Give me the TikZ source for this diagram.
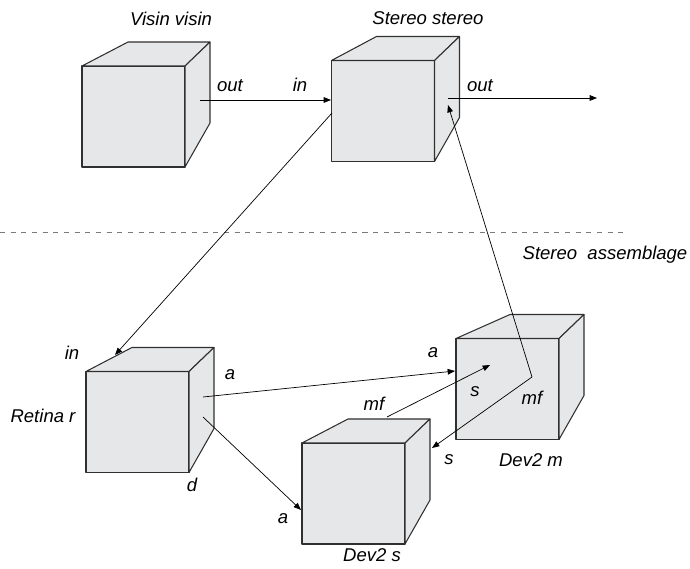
\documentclass[tikz,border=0pt]{standalone}
\usepackage{fontspec}
\setmainfont{Liberation Sans}
\usepackage{tikz}
\usetikzlibrary{arrows.meta,calc}
\definecolor{boxfill}{HTML}{E6E7E8}
\definecolor{boxedge}{HTML}{303030}
\definecolor{divider}{HTML}{7A7A7A}
\tikzset{
    every picture/.style={line join=round},
    boxfront/.style={draw=boxedge,fill=boxfill,line width=0.9pt,
      minimum width=3.09cm,minimum height=3.03cm,inner sep=0pt,outer sep=0pt},
    boxside/.style={draw=boxedge,fill=boxfill,line width=0.9pt},
    portlabel/.style={font=\fontsize{15.8}{18}\selectfont\itshape,
      inner sep=0pt,anchor=base},
    wire/.style={-{Triangle[length=2.2mm,width=1.7mm]},draw=black,
      line width=0.6pt}
}

\begin{document}
\begin{tikzpicture}[x=0.03cm,y=-0.03cm]
  \useasboundingbox (0,0) rectangle (690,569);
  % front faces
  \node[boxfront] (visin) at (133.5,116.5) {};
  \node[boxfront] (stereo) at (383,111) {};
  \node[boxfront] (retina) at (137.5,422) {};
  \node[boxfront] (dev2m) at (507.5,389) {};
  \node[boxfront] (dev2s) at (353.5,493.5) {};
  % top and right faces (back face a bit smaller)
  \foreach \b/\d in {visin/46,stereo/45,retina/46,dev2m/54,dev2s/46} {
    \draw[boxside] (\b.north west) -- ++(\d,-24) -- ($(\b.north east)+(25,-24)$)
      -- (\b.north east) -- cycle;
    \draw[boxside] (\b.north east) -- ++(25,-24) -- ($(\b.south east)+(25,-44)$)
      -- (\b.south east) -- cycle;
  }
  % assemblage border
  \draw[divider,line width=0.8pt,dash pattern=on 4.3pt off 4.8pt] (0,232) -- (623,232);
  % component names
  \node[portlabel] (visinname) at (171,26) {Visin visin};
  \node[portlabel] (stereoname) at (428,25) {Stereo stereo};
  \node[portlabel] (assemblage) at (605,260) {Stereo\ \ assemblage};
  \node[portlabel] (retinaname) at (43,423) {Retina r};
  \node[portlabel] (dev2mname) at (531,467) {Dev2 m};
  \node[portlabel] (dev2sname) at (372,561) {Dev2 s};
  % port names
  \node[portlabel] (lvisinout) at (230,92) {out};
  \node[portlabel] (lstereoin) at (300,92) {in};
  \node[portlabel] (lstereoout) at (480,92) {out};
  \node[portlabel] (lretinain) at (72,360) {in};
  \node[portlabel] (lretinaa) at (230,380) {a};
  \node[portlabel] (lretinad) at (192,492) {d};
  \node[portlabel] (ldev2sa) at (283,523) {a};
  \node[portlabel] (ldev2sf) at (374,411) {mf};
  \node[portlabel] (ldev2ss) at (449,465) {s};
  \node[portlabel] (ldev2ma) at (433,358) {a};
  \node[portlabel] (ldev2ms) at (475,397) {s};
  \node[portlabel] (ldev2mf) at (532,405) {mf};
  % port points
  \coordinate (visinout) at (200,100);
  \coordinate (stereoin) at (331,100);
  \coordinate (stereoout) at (448,98);
  \coordinate (stereoext) at (597,98);
  \coordinate (stereoleft) at (332,113);
  \coordinate (stereoback) at (448,105);
  \coordinate (retinain) at (115,355);
  \coordinate (retinaa) at (203,397);
  \coordinate (retinad) at (203,417);
  \coordinate (dev2sa) at (301,510);
  \coordinate (dev2sf) at (387,417);
  \coordinate (dev2ss) at (432,448);
  \coordinate (dev2ma) at (455,371);
  \coordinate (dev2ms) at (490,365);
  \coordinate (dev2mf) at (532,377);
  % bindings
  \draw[wire] (visinout) -- (stereoin);
  \draw[wire] (stereoout) -- (stereoext);
  \draw[wire] (stereoleft) -- (retinain);
  \draw[wire] (retinaa) -- (dev2ma);
  \draw[wire] (retinad) -- (dev2sa);
  \draw[wire] (dev2sf) -- (dev2ms);
  \draw[wire] (dev2mf) -- (dev2ss);
  \draw[wire] (dev2mf) -- (stereoback);
\end{tikzpicture}
\end{document}
